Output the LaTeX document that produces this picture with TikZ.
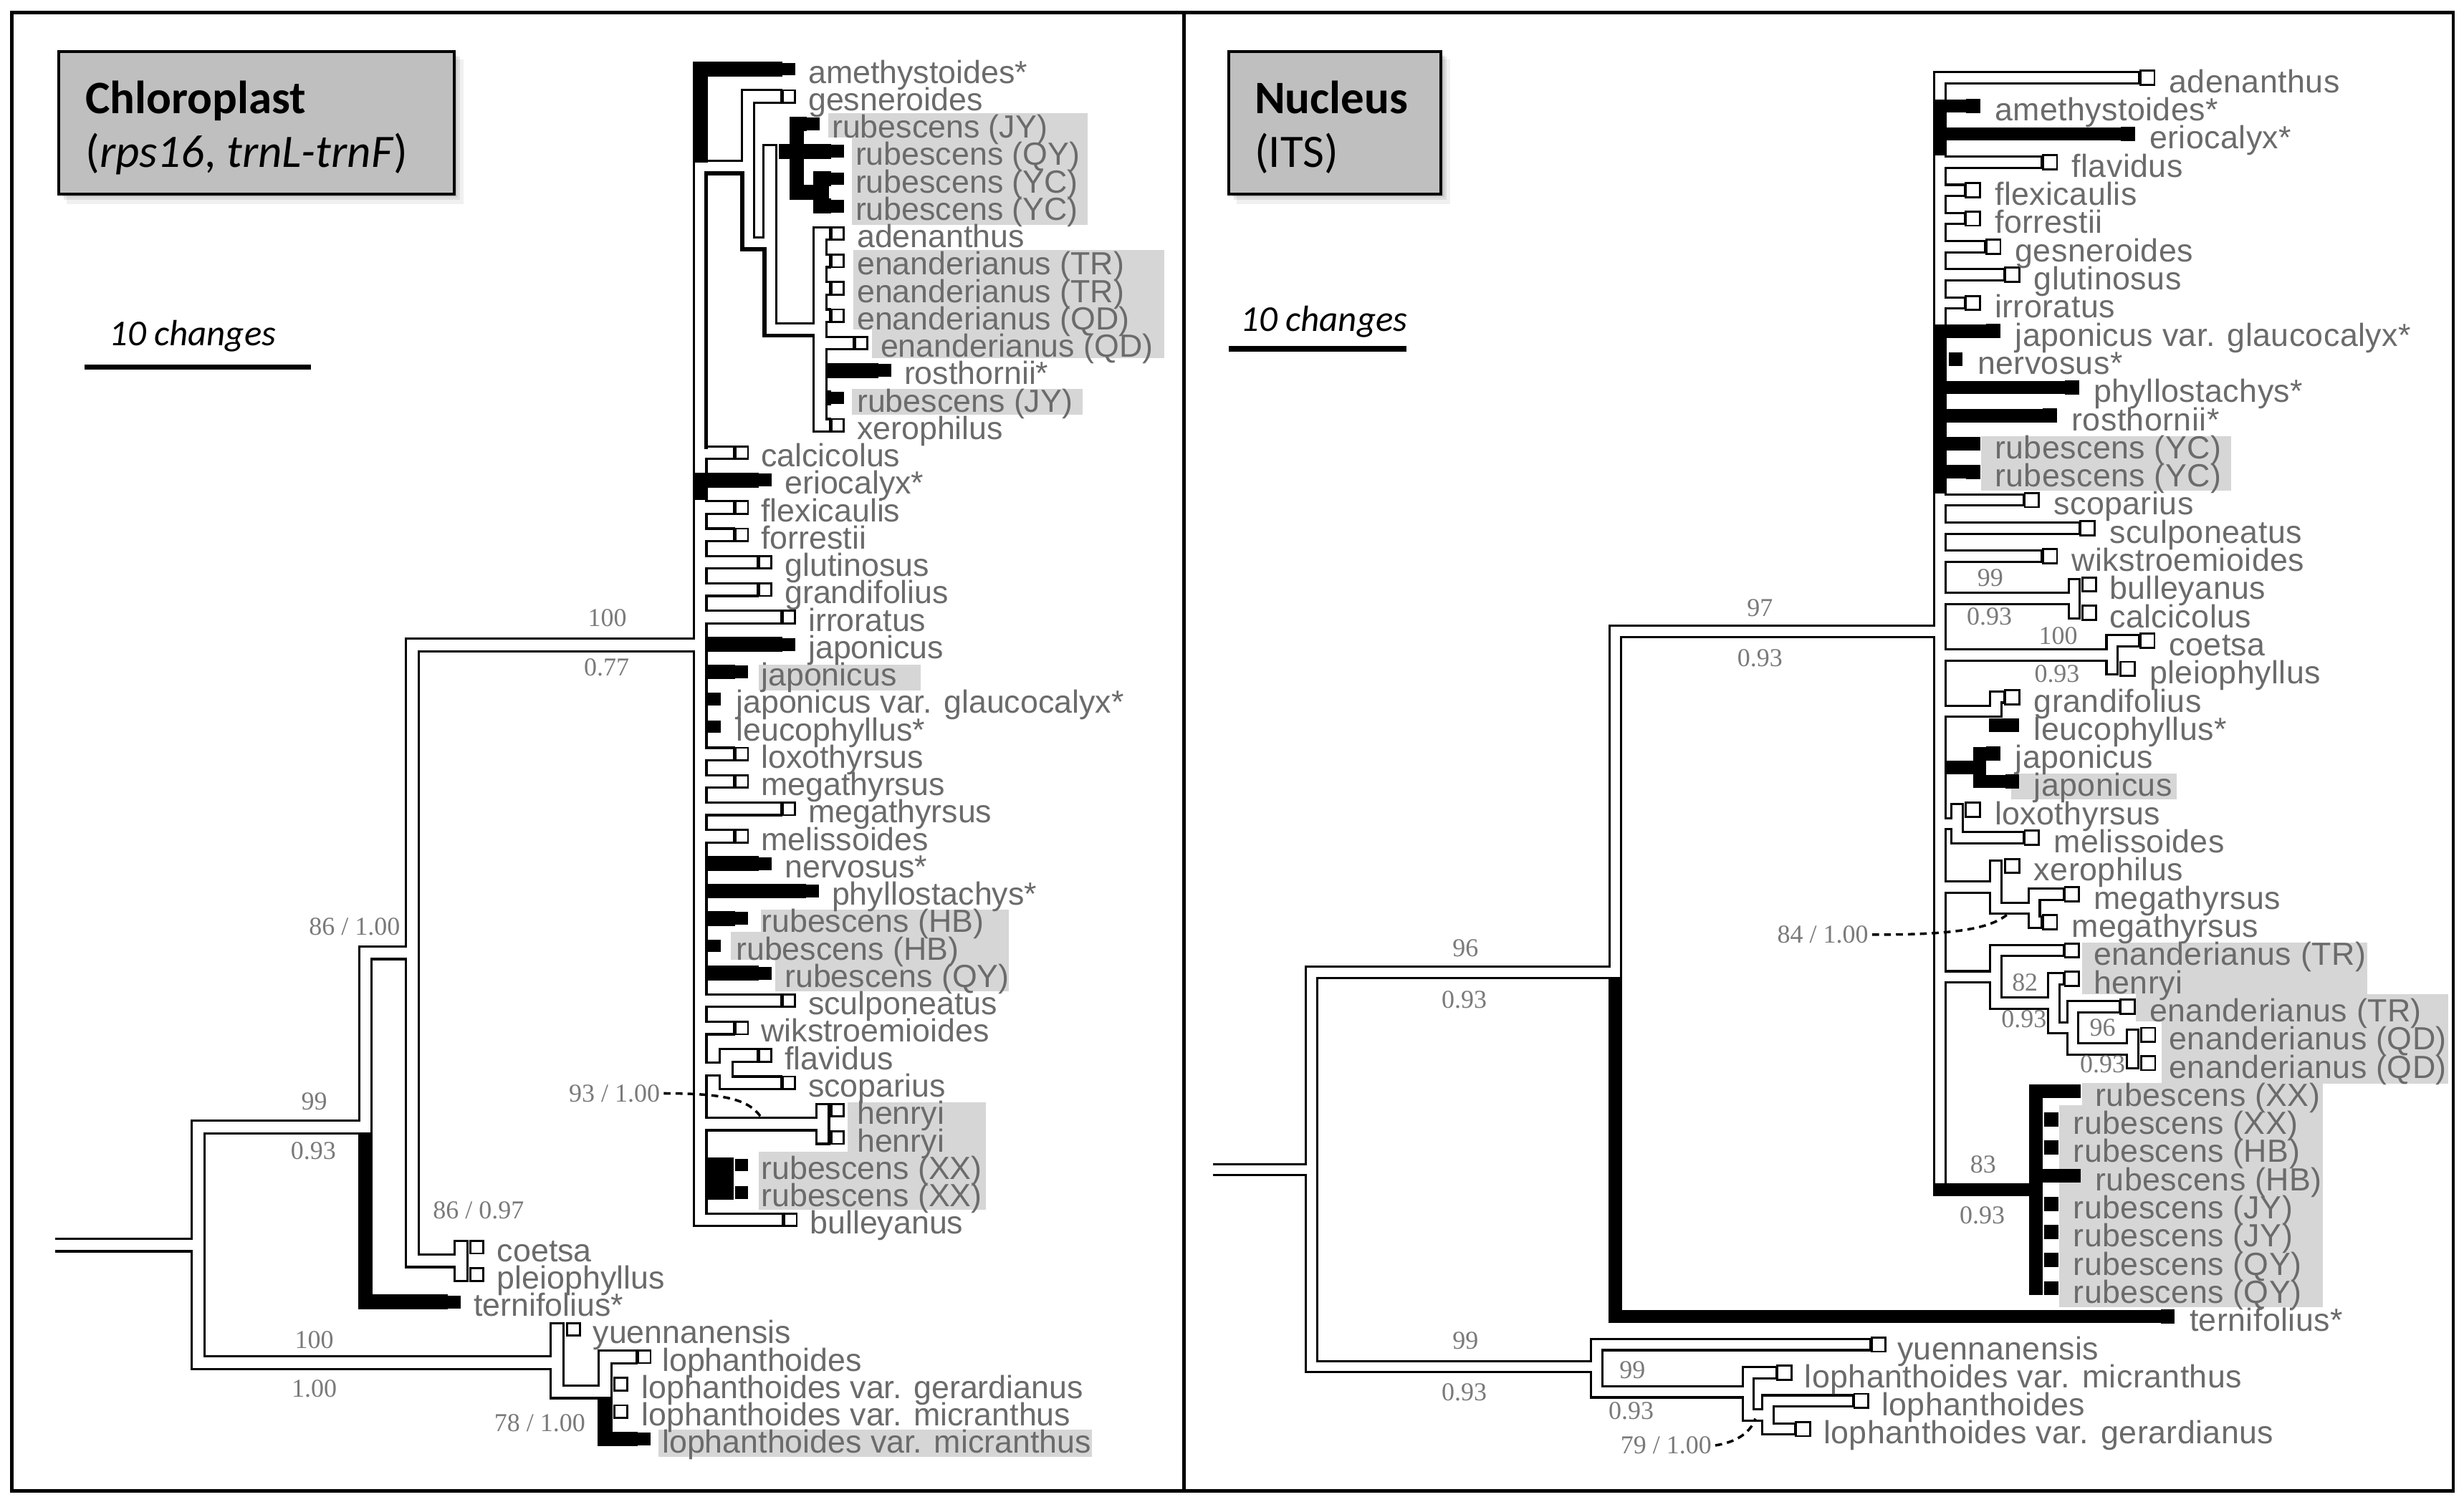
\documentclass[tikz,border=0pt]{standalone}
\usepackage{fontspec}
\setmainfont{Liberation Sans}
\newfontfamily\labL{Liberation Sans}
\newfontfamily\labR{Liberation Sans}[LetterSpace=1.0]
\newfontfamily\numf{Liberation Serif}
\newfontfamily\calf{Carlito}
\definecolor{txt}{gray}{0.42}
\definecolor{supc}{gray}{0.48}
\definecolor{hl}{gray}{0.84}
\definecolor{boxg}{gray}{0.75}
\tikzset{
 lblL/.style={anchor=base west, inner sep=0pt, text=txt, font=\labL\fontsize{10.2}{12}\selectfont},
 lblR/.style={anchor=base west, inner sep=0pt, text=txt, font=\labR\fontsize{10.2}{12}\selectfont},
 sup/.style={inner sep=0pt, text=supc, font=\numf\fontsize{8.2}{10}\selectfont},
 dashcon/.style={dashed, dash pattern=on 2.2pt off 1.6pt, line width=0.8pt},
 ttl/.style={anchor=base west, inner sep=0pt, font=\calf\fontsize{14.8}{16}\selectfont},
 scl/.style={anchor=base west, inner sep=0pt, font=\calf\itshape\fontsize{11.6}{13}\selectfont}
}
\newcommand\lbL[4]{\node[lblL] (#1) at (#2,{#3+9}) {#4};}
\newcommand\lbR[4]{\node[lblR] (#1) at (#2,{#3+9.5}) {#4};}
\newcommand\sqW[3]{\filldraw[fill=white,draw=black,line width=0.65pt] (#1,{#2-#3/2}) rectangle ({#1+#3},{#2+#3/2});}
\newcommand\sqB[3]{\fill[black] (#1,{#2-#3/2}) rectangle ({#1+#3},{#2+#3/2});}
\newcommand\treeL{%
\tbr{126}{717.5}{126}{867.5}%
\tbr{126}{717.5}{232.5}{717.5}%
\tbr{232.5}{606.5}{232.5}{717.5}%
\tbr{232.5}{606.5}{262.5}{606.5}%
\tbr{262.5}{410.5}{262.5}{802.5}%
\tbr{262.5}{410.5}{445.5}{410.5}%
\tbr{262.5}{802.5}{293.5}{802.5}%
\tbr{293.5}{793.92}{293.5}{811.36}%
\tbr{126}{867.5}{354.5}{867.5}%
\tbr{354.5}{846.24}{354.5}{886}%
\tbr{354.5}{886}{385}{886}%
\tbr{385}{863.68}{385}{886}%
\tbr{385}{863.68}{401.25}{863.68}%
\tbr{445.5}{44}{445.5}{776.48}%
\tbr{445.5}{106.5}{476}{106.5}%
\tbr{476}{61.44}{476}{155}%
\tbr{476}{61.44}{493.25}{61.44}%
\tbr{476}{155}{490}{155}%
\tbr{490}{96.32}{490}{210}%
\tbr{490}{210}{521.8}{210}%
\tbr{521.8}{148.64}{521.8}{270.72}%
\tbr{521.8}{148.64}{524.25}{148.64}%
\tbr{521.8}{166.08}{524.25}{166.08}%
\tbr{521.8}{183.52}{524.25}{183.52}%
\tbr{521.8}{200.96}{524.25}{200.96}%
\tbr{521.8}{218.4}{539.25}{218.4}%
\tbr{521.8}{270.72}{524.25}{270.72}%
\tbr{445.5}{288.16}{463.25}{288.16}%
\tbr{445.5}{323.04}{463.25}{323.04}%
\tbr{445.5}{340.48}{463.25}{340.48}%
\tbr{445.5}{357.92}{478.25}{357.92}%
\tbr{445.5}{375.36}{478.25}{375.36}%
\tbr{445.5}{392.8}{493.25}{392.8}%
\tbr{445.5}{480}{463.25}{480}%
\tbr{445.5}{497.44}{463.25}{497.44}%
\tbr{445.5}{514.88}{493.25}{514.88}%
\tbr{445.5}{532.32}{463.25}{532.32}%
\tbr{445.5}{636.96}{493.25}{636.96}%
\tbr{445.5}{654.4}{463.25}{654.4}%
\tbr{445.5}{680.56}{462}{680.56}%
\tbr{462}{671.84}{462}{689.28}%
\tbr{462}{671.84}{478.25}{671.84}%
\tbr{462}{689.28}{493.25}{689.28}%
\tbr{445.5}{715.44}{523.5}{715.44}%
\tbr{523.5}{706.72}{523.5}{724.16}%
\tbr{445.5}{776.48}{494.25}{776.48}%
}
\newcommand\treeR{%
\tbr{834.5}{619}{834.5}{870}%
\tbr{834.5}{619}{1028}{619}%
\tbr{1028}{402}{1028}{619}%
\tbr{1028}{402}{1234.5}{402}%
\tbr{1234.5}{49.5}{1234.5}{757.3}%
\tbr{834.5}{870}{1016}{870}%
\tbr{1016}{855.9}{1016}{886}%
\tbr{1016}{855.9}{1186.75}{855.9}%
\tbr{1016}{886}{1112.5}{886}%
\tbr{1112.5}{873.82}{1112.5}{900.7}%
\tbr{1112.5}{873.82}{1126.75}{873.82}%
\tbr{1112.5}{900.7}{1125}{900.7}%
\tbr{1125}{891.74}{1125}{909.66}%
\tbr{1125}{891.74}{1175.75}{891.74}%
\tbr{1125}{909.66}{1138.75}{909.66}%
\tbr{1234.5}{49.5}{1357.75}{49.5}%
\tbr{1234.5}{103.26}{1295.75}{103.26}%
\tbr{1234.5}{121.18}{1246.75}{121.18}%
\tbr{1234.5}{139.1}{1246.75}{139.1}%
\tbr{1234.5}{157.02}{1259.75}{157.02}%
\tbr{1234.5}{174.94}{1271.75}{174.94}%
\tbr{1234.5}{192.86}{1246.75}{192.86}%
\tbr{1234.5}{318.3}{1284.25}{318.3}%
\tbr{1234.5}{336.22}{1319.75}{336.22}%
\tbr{1234.5}{354.14}{1295.75}{354.14}%
\tbr{1234.5}{381}{1320}{381}%
\tbr{1320}{372.06}{1320}{389.98}%
\tbr{1234.5}{416.9}{1344}{416.9}%
\tbr{1344}{407.9}{1344}{425.82}%
\tbr{1344}{407.9}{1357.75}{407.9}%
\tbr{1234.5}{452.7}{1270}{452.7}%
\tbr{1270}{443.74}{1270}{452.7}%
\tbr{1270}{443.74}{1271.75}{443.74}%
\tbr{1234.5}{524.4}{1245.5}{524.4}%
\tbr{1245.5}{515.42}{1245.5}{533.34}%
\tbr{1245.5}{533.34}{1284.25}{533.34}%
\tbr{1234.5}{564.7}{1270}{564.7}%
\tbr{1270}{551.26}{1270}{578.1}%
\tbr{1270}{578.1}{1294.5}{578.1}%
\tbr{1294.5}{569.18}{1294.5}{587.1}%
\tbr{1294.5}{569.18}{1309.75}{569.18}%
\tbr{1294.5}{587.1}{1295.75}{587.1}%
\tbr{1234.5}{621.8}{1270}{621.8}%
\tbr{1270}{605.02}{1270}{638.6}%
\tbr{1270}{605.02}{1309.75}{605.02}%
\tbr{1270}{638.6}{1307}{638.6}%
\tbr{1307}{622.94}{1307}{654.3}%
\tbr{1307}{622.94}{1309.75}{622.94}%
\tbr{1307}{654.3}{1319}{654.3}%
\tbr{1319}{640.86}{1319}{667.7}%
\tbr{1319}{640.86}{1345.25}{640.86}%
\tbr{1319}{667.7}{1357}{667.7}%
\tbr{1357}{658.78}{1357}{676.7}%
}
\begin{document}
\begin{tikzpicture}[x=0.5pt,y=-0.5pt]
\useasboundingbox (0,0) rectangle (1568,956);
\fill[white] (0,0) rectangle (1568,956);
% highlight backgrounds
\fill[hl] (527,72) rectangle (692,87.6);
\fill[hl] (542,87.6) rectangle (692,143);
\fill[hl] (543,159) rectangle (741,209.7);
\fill[hl] (555,209.7) rectangle (741,228);
\fill[hl] (542,247.5) rectangle (689,264);
\fill[hl] (483,423) rectangle (586,439.6);
\fill[hl] (484,579) rectangle (642,593.4);
\fill[hl] (465,593.4) rectangle (642,610.8);
\fill[hl] (493.5,610.8) rectangle (642,631);
\fill[hl] (539.6,701.5) rectangle (627.5,733);
\fill[hl] (483,733) rectangle (627.5,770);
\fill[hl] (419,910) rectangle (695,927.5);
\fill[hl] (1260.5,277.5) rectangle (1420,312.5);
\fill[hl] (1280,492.5) rectangle (1385,509);
\fill[hl] (1325,600) rectangle (1506.5,633);
\fill[hl] (1359,633) rectangle (1558,650);
\fill[hl] (1375.5,650) rectangle (1558,690);
\fill[hl] (1325,689.5) rectangle (1478,703.5);
\fill[hl] (1310.5,703.5) rectangle (1478,832);
% left tree
\def\tbr#1#2#3#4{\draw[line width=4.75pt,line cap=rect] (#1,#2)--(#3,#4);}
\treeL
\draw[line width=4.75pt] (35,792.5)--(126,792.5);
\def\tbr#1#2#3#4{\draw[white,line width=3.3pt,line cap=rect] (#1,#2)--(#3,#4);}
\treeL
\draw[white,line width=3.3pt] (34,792.5)--(126,792.5);
% right tree
\def\tbr#1#2#3#4{\draw[line width=4.25pt,line cap=rect] (#1,#2)--(#3,#4);}
\treeR
\draw[line width=4.25pt] (772,744.5)--(834.5,744.5);
\def\tbr#1#2#3#4{\draw[white,line width=2.85pt,line cap=rect] (#1,#2)--(#3,#4);}
\treeR
\draw[white,line width=2.85pt] (771,744.5)--(834.5,744.5);
% black branches left
\fill (440.75,39.25) rectangle (498,48.75);
\fill (440.75,39.25) rectangle (450.25,103.5);
\fill (495.5,91.57) rectangle (529,101.07);
\fill (502.4,74.13) rectangle (511.5,127.2);
\fill (502.4,74.13) rectangle (513.6,83.63);
\fill (502.4,117.7) rectangle (527.6,127.2);
\fill (517.6,109.01) rectangle (527.6,135.95);
\fill (517.6,109.01) rectangle (529,118.51);
\fill (517.6,126.45) rectangle (529,135.95);
\fill (525.3,231.09) rectangle (559,240.59);
\fill (525.3,248.53) rectangle (529,258.03);
\fill (440.75,300.85) rectangle (483,310.35);
\fill (440.75,300.85) rectangle (450.25,318.3);
\fill (449,405.49) rectangle (498,414.99);
\fill (449,422.93) rectangle (468,432.43);
\fill (449,545.01) rectangle (483,554.51);
\fill (449,562.45) rectangle (513,571.95);
\fill (449,579.89) rectangle (468,589.39);
\fill (449,614.77) rectangle (483,624.27);
\fill (449,736.85) rectangle (467,763.79);
\fill (227.75,722.25) rectangle (237.25,833.55);
\fill (227.75,824.05) rectangle (285,833.55);
\fill (380.25,891) rectangle (389.75,920.75);
\fill (380.25,911.25) rectangle (406,920.75);
\draw[line width=1.3pt] (449.3,286) -- (449.3,110.4) -- (472.4,110.4) -- (472.4,158.6) -- (486.4,158.6) -- (486.4,213.6) -- (518.2,213.6);
% black branches right
\fill (1230.25,63.2) rectangle (1238.75,98.9);
\fill (1230.25,206.5) rectangle (1238.75,314);
\fill (1230.25,63.17) rectangle (1251,71.67);
\fill (1230.25,81.09) rectangle (1349.5,89.59);
\fill (1230.25,206.53) rectangle (1264,215.03);
\fill (1230.25,242.37) rectangle (1314,250.87);
\fill (1230.25,260.29) rectangle (1300,268.79);
\fill (1230.25,278.21) rectangle (1251,286.71);
\fill (1230.25,296.13) rectangle (1251,304.63);
\fill (1265.75,457.41) rectangle (1276,465.91);
\fill (1237.25,484.25) rectangle (1264,492.75);
\fill (1255.5,475.33) rectangle (1264,501.75);
\fill (1255.5,493.25) rectangle (1276,501.75);
\fill (1230.25,753.05) rectangle (1299.75,761.55);
\fill (1291.25,690.37) rectangle (1299.75,824.31);
\fill (1291.25,690.37) rectangle (1315,698.87);
\fill (1291.25,744.13) rectangle (1315,752.63);
\fill (1023.75,623.25) rectangle (1032.25,842.23);
\fill (1023.75,833.73) rectangle (1375,842.23);
% squares left
\sqW{498}{61.44}{8}\sqW{529}{148.64}{8}\sqW{529}{166.08}{8}\sqW{529}{183.52}{8}\sqW{529}{200.96}{8}
\sqW{544}{218.4}{8}\sqW{529}{270.72}{8}\sqW{468}{288.16}{8}\sqW{468}{323.04}{8}\sqW{468}{340.48}{8}
\sqW{483}{357.92}{8}\sqW{483}{375.36}{8}\sqW{498}{392.8}{8}\sqW{468}{480}{8}\sqW{468}{497.44}{8}
\sqW{498}{514.88}{8}\sqW{468}{532.32}{8}\sqW{498}{636.96}{8}\sqW{468}{654.4}{8}\sqW{483}{671.84}{8}
\sqW{498}{689.28}{8}\sqW{529}{706.72}{8}\sqW{529}{724.16}{8}\sqW{499}{776.48}{8}\sqW{299.5}{793.92}{8}
\sqW{299.5}{811.36}{8}\sqW{361}{846.24}{8}\sqW{406}{863.68}{8}\sqW{391}{881.12}{8}\sqW{391}{898.56}{8}
\sqB{498}{44}{8}\sqB{513.6}{78.88}{8}\sqB{529}{96.32}{8}\sqB{529}{113.76}{8}\sqB{529}{131.2}{8}
\sqB{529}{253.28}{8}\sqB{559}{235.84}{8}\sqB{483}{305.6}{8}\sqB{498}{410.24}{8}\sqB{468}{427.68}{8}
\sqB{450.5}{445.12}{8}\sqB{450.5}{462.56}{8}\sqB{450.5}{602.08}{8}\sqB{483}{549.76}{8}\sqB{483}{619.52}{8}
\sqB{513}{567.2}{8}\sqB{468}{584.64}{8}\sqB{468}{741.6}{8}\sqB{468}{759.04}{8}\sqB{285}{828.8}{8}
\sqB{406}{916}{8}
% squares right
\sqW{1362}{49.5}{9}\sqW{1300}{103.26}{9}\sqW{1251}{121.18}{9}\sqW{1251}{139.1}{9}\sqW{1251}{192.86}{9}
\sqW{1264}{157.02}{9}\sqW{1276}{174.94}{9}\sqW{1288.5}{318.3}{9}\sqW{1324}{336.22}{9}\sqW{1300}{354.14}{9}
\sqW{1325}{372.06}{9}\sqW{1325}{389.98}{9}\sqW{1362}{407.9}{9}\sqW{1349.5}{425.82}{9}\sqW{1276}{443.74}{9}
\sqW{1251}{515.42}{9}\sqW{1288.5}{533.34}{9}\sqW{1276}{551.26}{9}\sqW{1314}{569.18}{9}\sqW{1300}{587.1}{9}
\sqW{1314}{605.02}{9}\sqW{1314}{622.94}{9}\sqW{1349.5}{640.86}{9}\sqW{1362.5}{658.78}{9}\sqW{1362.5}{676.7}{9}
\sqW{1191}{855.9}{9}\sqW{1131}{873.82}{9}\sqW{1180}{891.74}{9}\sqW{1143}{909.66}{9}
\sqB{1251}{67.42}{9}\sqB{1349.5}{85.34}{9}\sqB{1264}{210.78}{9}\sqB{1240}{228.7}{9}\sqB{1314}{246.62}{9}
\sqB{1300}{264.54}{9}\sqB{1251}{282.46}{9}\sqB{1251}{300.38}{9}\sqB{1276}{461.66}{9}\sqB{1264}{479.58}{9}
\sqB{1276}{497.5}{9}\sqB{1315}{694.62}{9}\sqB{1315}{748.38}{9}\sqB{1301}{712.54}{9}\sqB{1301}{730.46}{9}
\sqB{1301}{766.3}{9}\sqB{1301}{784.22}{9}\sqB{1301}{802.14}{9}\sqB{1301}{820.06}{9}\sqB{1375}{837.98}{9}
% left labels
\lbL{l01}{514}{44}{amethystoides*}
\lbL{l02}{514}{61.44}{gesneroides}
\lbL{l03}{529}{78.88}{rubescens (JY)}
\lbL{l04}{544}{96.32}{rubescens (QY)}
\lbL{l05}{544}{113.76}{rubescens (YC)}
\lbL{l06}{544}{131.2}{rubescens (YC)}
\lbL{l07}{545}{148.64}{adenanthus}
\lbL{l08}{545}{166.08}{enanderianus (TR)}
\lbL{l09}{545}{183.52}{enanderianus (TR)}
\lbL{l10}{545}{200.96}{enanderianus (QD)}
\lbL{l11}{560}{218.4}{enanderianus (QD)}
\lbL{l12}{575}{235.84}{rosthornii*}
\lbL{l13}{545}{253.28}{rubescens (JY)}
\lbL{l14}{545}{270.72}{xerophilus}
\lbL{l15}{484}{288.16}{calcicolus}
\lbL{l16}{499}{305.6}{eriocalyx*}
\lbL{l17}{484}{323.04}{flexicaulis}
\lbL{l18}{484}{340.48}{forrestii}
\lbL{l19}{499}{357.92}{glutinosus}
\lbL{l20}{499}{375.36}{grandifolius}
\lbL{l21}{514}{392.8}{irroratus}
\lbL{l22}{514}{410.24}{japonicus}
\lbL{l23}{484}{427.68}{japonicus}
\lbL{l24}{468}{445.12}{japonicus var. glaucocalyx*}
\lbL{l25}{468}{462.56}{leucophyllus*}
\lbL{l26}{484}{480}{loxothyrsus}
\lbL{l27}{484}{497.44}{megathyrsus}
\lbL{l28}{514}{514.88}{megathyrsus}
\lbL{l29}{484}{532.32}{melissoides}
\lbL{l30}{499}{549.76}{nervosus*}
\lbL{l31}{529}{567.2}{phyllostachys*}
\lbL{l32}{484}{584.64}{rubescens (HB)}
\lbL{l33}{468}{602.08}{rubescens (HB)}
\lbL{l34}{499}{619.52}{rubescens (QY)}
\lbL{l35}{514}{636.96}{sculponeatus}
\lbL{l36}{484}{654.4}{wikstroemioides}
\lbL{l37}{499}{671.84}{flavidus}
\lbL{l38}{514}{689.28}{scoparius}
\lbL{l39}{545}{706.72}{henryi}
\lbL{l40}{545}{724.16}{henryi}
\lbL{l41}{484}{741.6}{rubescens (XX)}
\lbL{l42}{484}{759.04}{rubescens (XX)}
\lbL{l43}{515}{776.48}{bulleyanus}
\lbL{l44}{316}{793.92}{coetsa}
\lbL{l45}{316}{811.36}{pleiophyllus}
\lbL{l46}{301}{828.8}{ternifolius*}
\lbL{l47}{377}{846.24}{yuennanensis}
\lbL{l48}{421}{863.68}{lophanthoides}
\lbL{l49}{408}{881.12}{lophanthoides var. gerardianus}
\lbL{l50}{408}{898.56}{lophanthoides var. micranthus}
\lbL{l51}{421}{916}{lophanthoides var. micranthus}
% right labels
\lbR{r01}{1380}{49.5}{adenanthus}
\lbR{r02}{1269}{67.42}{amethystoides*}
\lbR{r03}{1367.5}{85.34}{eriocalyx*}
\lbR{r04}{1318}{103.26}{flavidus}
\lbR{r05}{1269}{121.18}{flexicaulis}
\lbR{r06}{1269}{139.1}{forrestii}
\lbR{r07}{1282}{157.02}{gesneroides}
\lbR{r08}{1294}{174.94}{glutinosus}
\lbR{r09}{1269}{192.86}{irroratus}
\lbR{r10}{1282}{210.78}{japonicus var. glaucocalyx*}
\lbR{r11}{1258}{228.7}{nervosus*}
\lbR{r12}{1332}{246.62}{phyllostachys*}
\lbR{r13}{1318}{264.54}{rosthornii*}
\lbR{r14}{1269}{282.46}{rubescens (YC)}
\lbR{r15}{1269}{300.38}{rubescens (YC)}
\lbR{r16}{1306.5}{318.3}{scoparius}
\lbR{r17}{1342}{336.22}{sculponeatus}
\lbR{r18}{1318}{354.14}{wikstroemioides}
\lbR{r19}{1342}{372.06}{bulleyanus}
\lbR{r20}{1342}{389.98}{calcicolus}
\lbR{r21}{1380}{407.9}{coetsa}
\lbR{r22}{1367.5}{425.82}{pleiophyllus}
\lbR{r23}{1294}{443.74}{grandifolius}
\lbR{r24}{1294}{461.66}{leucophyllus*}
\lbR{r25}{1282}{479.58}{japonicus}
\lbR{r26}{1294}{497.5}{japonicus}
\lbR{r27}{1269}{515.42}{loxothyrsus}
\lbR{r28}{1306.5}{533.34}{melissoides}
\lbR{r29}{1294}{551.26}{xerophilus}
\lbR{r30}{1332}{569.18}{megathyrsus}
\lbR{r31}{1318}{587.1}{megathyrsus}
\lbR{r32}{1332}{605.02}{enanderianus (TR)}
\lbR{r33}{1332}{622.94}{henryi}
\lbR{r34}{1367.5}{640.86}{enanderianus (TR)}
\lbR{r35}{1380}{658.78}{enanderianus (QD)}
\lbR{r36}{1380}{676.7}{enanderianus (QD)}
\lbR{r37}{1333}{694.62}{rubescens (XX)}
\lbR{r38}{1319}{712.54}{rubescens (XX)}
\lbR{r39}{1319}{730.46}{rubescens (HB)}
\lbR{r40}{1333}{748.38}{rubescens (HB)}
\lbR{r41}{1319}{766.3}{rubescens (JY)}
\lbR{r42}{1319}{784.22}{rubescens (JY)}
\lbR{r43}{1319}{802.14}{rubescens (QY)}
\lbR{r44}{1319}{820.06}{rubescens (QY)}
\lbR{r45}{1393}{837.98}{ternifolius*}
\lbR{r46}{1207}{855.9}{yuennanensis}
\lbR{r47}{1148}{873.82}{lophanthoides var. micranthus}
\lbR{r48}{1197}{891.74}{lophanthoides}
\lbR{r49}{1160}{909.66}{lophanthoides var. gerardianus}
% support values left
\node[sup] (s1) at (386.5,393.5) {100};
\node[sup] (s2) at (386,425) {0.77};
\node[sup] (s3) at (225.6,590) {86 / 1.00};
\node[sup] (s4) at (200,701) {99};
\node[sup] (s5) at (199.4,732.5) {0.93};
\node[sup] (s6) at (304.5,770.5) {86 / 0.97};
\node[sup] (s7) at (200,853) {100};
\node[sup] (s8) at (200,884) {1.00};
\node[sup] (s9) at (343.5,906) {78 / 1.00};
\node[sup] (s10) at (391,696) {93 / 1.00};
% support values right
\node[sup] (s11) at (1120,387) {97};
\node[sup] (s12) at (1120,419) {0.93};
\node[sup] (s13) at (932.6,603.7) {96};
\node[sup] (s14) at (931.8,636.4) {0.93};
\node[sup] (s15) at (932.6,853.5) {99};
\node[sup] (s16) at (931.8,886.2) {0.93};
\node[sup] (s17) at (1038.8,872) {99};
\node[sup] (s18) at (1038,898.3) {0.93};
\node[sup] (s19) at (1060.2,920.1) {79 / 1.00};
\node[sup] (s20) at (1160,595) {84 / 1.00};
\node[sup] (s21) at (1266.5,368) {99};
\node[sup] (s22) at (1266,392.4) {0.93};
\node[sup] (s23) at (1309.7,404.6) {100};
\node[sup] (s24) at (1309,428.9) {0.93};
\node[sup] (s25) at (1288.6,625.6) {82};
\node[sup] (s26) at (1288,648.8) {0.93};
\node[sup] (s27) at (1338,654.3) {96};
\node[sup] (s28) at (1338,677.6) {0.93};
\node[sup] (s29) at (1262,741.2) {83};
\node[sup] (s30) at (1261.4,773.5) {0.93};
% dashed pointers
\coordinate (h93) at (484,710.7);
\coordinate (h84) at (1277,582.4);
\coordinate (h79) at (1117,903);
\draw[dashcon] ([xshift=1pt]s10.east) .. controls (462,696) and (476,700) .. (h93);
\draw[dashcon] ([xshift=1pt]s20.east) .. controls (1240,595) and (1265,592) .. (h84);
\draw[dashcon] ([xshift=1pt]s19.east) .. controls (1105,918) and (1114,912) .. (h79);
% title boxes
\fill[black,opacity=0.06] (42.5,38) rectangle (295,130);
\fill[black,opacity=0.08] (40.5,36) rectangle (292.5,127);
\fill[black,opacity=0.10] (39.5,35) rectangle (291,125.5);
\filldraw[fill=boxg,draw=black,line width=0.9pt] (37.5,33) rectangle (289,123.5);
\node[ttl,font=\calf\bfseries\fontsize{14.8}{16}\selectfont] (t1) at (54,72.5) {Chloroplast};
\node[ttl] (t2) at (54,106.6) {(\textit{rps16}, \textit{trnL-trnF})};
\fill[black,opacity=0.06] (787,38) rectangle (923,130);
\fill[black,opacity=0.08] (785,36) rectangle (920.5,127);
\fill[black,opacity=0.10] (784,35) rectangle (919,125.5);
\filldraw[fill=boxg,draw=black,line width=0.9pt] (782,33) rectangle (917,123.5);
\node[ttl,font=\calf\bfseries\fontsize{14.8}{16}\selectfont] (t3) at (798,72.5) {Nucleus};
\node[ttl] (t4) at (798,106.6) {(ITS)};
% scale bars
\node[scl] (sc1) at (69,220) {10 changes};
\coordinate (b1a) at (54,233.7); \coordinate (b1b) at (198,233.7);
\draw[line width=1.75pt] (b1a) -- (b1b);
\node[scl] (sc2) at (789,211) {10 changes};
\coordinate (b2a) at (782,222); \coordinate (b2b) at (895,222);
\draw[line width=1.75pt] (b2a) -- (b2b);
% frame
\draw[line width=1pt] (7.5,8) rectangle (1561,949);
\draw[line width=1pt] (753.5,8) -- (753.5,949);
\end{tikzpicture}
\end{document}
